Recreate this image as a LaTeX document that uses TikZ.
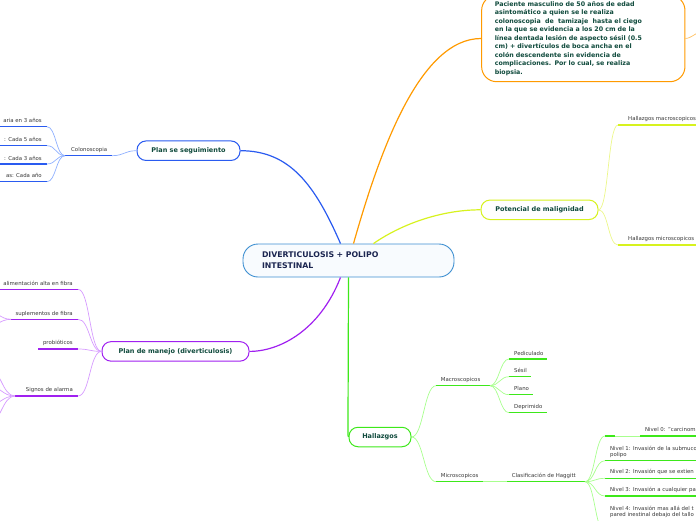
\documentclass[tikz,border=0pt]{standalone}
\usepackage{fontspec}
\setmainfont{DejaVu Sans}
\usepackage{xcolor}
\usepackage{tikz}
\usetikzlibrary{shapes,arrows,positioning,calc}
\definecolor{mapblue}{HTML}{2A5BF0}
\definecolor{mapbluelight}{HTML}{8FB0FF}
\definecolor{mapcore}{HTML}{3D8FD1}
\definecolor{mapcorelight}{HTML}{F8FBFE}
\definecolor{maporange}{HTML}{FF9A00}
\definecolor{maporangelight}{HTML}{FFC060}
\definecolor{mapyellow}{HTML}{D7F21E}
\definecolor{mapyellowlight}{HTML}{ECF78A}
\definecolor{mappurple}{HTML}{A020F0}
\definecolor{mappurplelight}{HTML}{D69BFF}
\definecolor{mapgreen}{HTML}{3DE81A}
\definecolor{mapgreenlight}{HTML}{A8FF8E}
\definecolor{maptext}{HTML}{0F4A3C}
\definecolor{mapnavy}{HTML}{1B2550}
\definecolor{mapgray}{HTML}{383838}

\tikzset{
    topic/.style={draw, line width=1pt, rounded corners=9pt, fill=white, text=maptext,
                  font=\fontsize{6.5}{8}\selectfont\bfseries, minimum height=19.5pt, inner sep=0pt},
    leaftxt/.style={text=mapgray, font=\fontsize{5.4}{6}\selectfont, inner sep=0pt},
    leafbar/.style={line width=1.4pt},
    leaflink/.style={line width=0.7pt},
    mainlink/.style={line width=1.2pt},
}

\begin{document}
\begin{tikzpicture}[x=1pt, y=-1pt]
        \useasboundingbox (0,0) rectangle (696,520);
        \begin{scope}
        \clip (0,0) rectangle (696,520);

        % centre and main topics
        \node[draw=mapcore, line width=0.9pt, rounded corners=15pt, fill=mapcorelight,
              minimum width=211pt, minimum height=33pt, text width=173pt, align=left, inner sep=0pt,
              text=mapnavy, font=\fontsize{7.8}{11}\selectfont\bfseries] (centre) at (348.5,260.5)
              {DIVERTICULOSIS + POLIPO\\INTESTINAL};
        \node[draw=maporange, line width=1pt, rounded corners=15pt, fill=white,
              minimum width=203.3pt, minimum height=86.4pt, text width=177pt, align=left, inner sep=0pt,
              text=maptext, font=\fontsize{6.3}{8.5}\selectfont\bfseries] (caso) at (583.3,38.5)
              {Paciente masculino de 50 años de edad\\
               asintomático a quien se le realiza\\
               colonoscopia~ de~ tamizaje~ hasta el ciego\\
               en la que se evidencia a los 20 cm de la\\
               línea dentada lesión de aspecto sésil (0.5\\
               cm) + divertículos de boca ancha en el\\
               colón descendente sin evidencia de\\
               complicaciones. Por lo cual, se realiza\\
               biopsia.};
        \node[topic, draw=mapyellow, minimum width=117pt] (potencial) at (539.5,209.8) {Potencial de malignidad};
        \node[topic, draw=mapblue, minimum width=103pt] (seguimiento) at (188.5,150.7) {Plan se seguimiento};
        \node[topic, draw=mappurple, minimum width=147pt] (manejo) at (175.5,351.4) {Plan de manejo (diverticulosis)};
        \node[topic, draw=mapgreen, minimum width=62pt] (hallazgos) at (380,437) {Hallazgos};

        \draw[mainlink, draw=mapblue] ($(centre.north)+(-8,0)$) .. controls (315,185) and (290,150.7) .. (seguimiento.east);
        \draw[mainlink, draw=maporange] ($(centre.north)+(5,0)$) .. controls (380,150) and (420,38.5) .. (caso.west);
        \draw[mainlink, draw=mapyellow] ($(centre.north)+(25,0)$) .. controls (400,225) and (440,209.8) .. (potencial.west);
        \draw[mainlink, draw=mappurple] ($(centre.south)+(-8,0)$) .. controls (320,330) and (280,351.4) .. (manejo.east);
        \draw[mainlink, draw=mapgreen] (centre.south) -- (348,425) .. controls (348,437) .. (hallazgos.west);
        \coordinate (casoout) at (705,30);
        \draw[leaflink, draw=maporangelight] (caso.east) .. controls +(6,0) and +(-6,0) .. (casoout);

        % seguimiento
        \coordinate (colo-l) at (65,155.7);
        \coordinate (colo-r) at (112,155.7);
        \draw[leafbar, draw=mapblue] (colo-l) -- (colo-r);
        \node[leaftxt, anchor=base west] (colo) at (71,151.7) {Colonoscopia};
        \draw[leaflink, draw=mapbluelight] (seguimiento.west) .. controls +(-12,0) and +(12,0) .. (colo-r);
        \coordinate (ctrlA) at (47,126.7);
        \coordinate (ctrlB) at (47,145.7);
        \coordinate (ctrlC) at (47,164);
        \coordinate (ctrlD) at (47,181.7);
        \draw[leafbar, draw=mapblue] (-5,126.7) -- (ctrlA) (-5,145.7) -- (ctrlB) (-5,164) -- (ctrlC) (-5,181.7) -- (ctrlD);
        \node[leaftxt, anchor=base east] at (42,122.7) {aria en 3 años};
        \node[leaftxt, anchor=base east] at (42,141.7) {: Cada 5 años};
        \node[leaftxt, anchor=base east] at (42,160) {: Cada 3 años};
        \node[leaftxt, anchor=base east] at (42,177.7) {as: Cada año};
        \draw[leaflink, draw=mapbluelight] (colo-l) .. controls +(-9,0) and +(9,0) .. (ctrlA);
        \draw[leaflink, draw=mapbluelight] (colo-l) .. controls +(-9,0) and +(9,0) .. (ctrlB);
        \draw[leaflink, draw=mapbluelight] (colo-l) .. controls +(-9,0) and +(9,0) .. (ctrlC);
        \draw[leaflink, draw=mapbluelight] (colo-l) .. controls +(-9,0) and +(9,0) .. (ctrlD);

        % manejo
        \coordinate (alim-r) at (78,289.3);
        \coordinate (supl-l) at (11,319.3);
        \coordinate (supl-r) at (78,319.3);
        \coordinate (prob-l) at (38,349);
        \coordinate (prob-r) at (78,349);
        \coordinate (sign-l) at (15,396);
        \coordinate (sign-r) at (78,396);
        \draw[leafbar, draw=mappurple] (-5,289.3) -- (alim-r) (supl-l) -- (supl-r) (prob-l) -- (prob-r) (sign-l) -- (sign-r);
        \node[leaftxt, anchor=base east] (alim) at (73,285.8) {alimentación alta en fibra};
        \node[leaftxt, anchor=base east] (supl) at (73,315.1) {suplementos de fibra};
        \node[leaftxt, anchor=base east] (prob) at (73,344.5) {probióticos};
        \node[leaftxt, anchor=base east] (sign) at (73,391.8) {Signos de alarma};
        \draw[leaflink, draw=mappurplelight] (manejo.west) .. controls +(-12,0) and +(12,0) .. (alim-r);
        \draw[leaflink, draw=mappurplelight] (manejo.west) .. controls +(-12,0) and +(12,0) .. (supl-r);
        \draw[leaflink, draw=mappurplelight] (manejo.west) .. controls +(-12,0) and +(12,0) .. (prob-r);
        \draw[leaflink, draw=mappurplelight] (manejo.west) .. controls +(-12,0) and +(12,0) .. (sign-r);
        \coordinate (suplA) at (-16,309);
        \coordinate (suplB) at (-16,328);
        \draw[leaflink, draw=mappurplelight] (supl-l) .. controls +(-12,0) and +(12,0) .. (suplA);
        \draw[leaflink, draw=mappurplelight] (supl-l) .. controls +(-12,0) and +(12,0) .. (suplB);
        \coordinate (signA) at (-12,368);
        \coordinate (signB) at (-12,386);
        \coordinate (signC) at (-12,405);
        \coordinate (signD) at (-12,424);
        \draw[leaflink, draw=mappurplelight] (sign-l) .. controls +(-13,0) and +(13,0) .. (signA);
        \draw[leaflink, draw=mappurplelight] (sign-l) .. controls +(-13,0) and +(13,0) .. (signB);
        \draw[leaflink, draw=mappurplelight] (sign-l) .. controls +(-13,0) and +(13,0) .. (signC);
        \draw[leaflink, draw=mappurplelight] (sign-l) .. controls +(-13,0) and +(13,0) .. (signD);

        % potencial
        \coordinate (hmac-l) at (618,125);
        \coordinate (hmic-l) at (618,245);
        \draw[leafbar, draw=mapyellow] (hmac-l) -- (700,125) (hmic-l) -- (700,245);
        \node[leaftxt, anchor=base west] (hmac) at (628,120.8) {Hallazgos macroscopicos};
        \node[leaftxt, anchor=base west] (hmic) at (628,240.1) {Hallazgos microscopicos};
        \draw[leaflink, draw=mapyellowlight] (potencial.east) .. controls +(10,0) and +(-10,0) .. (hmac-l);
        \draw[leaflink, draw=mapyellowlight] (potencial.east) .. controls +(10,0) and +(-10,0) .. (hmic-l);

        % hallazgos
        \coordinate (macro-l) at (436,385.7);
        \coordinate (macro-r) at (490,385.7);
        \coordinate (micro-l) at (436,481.7);
        \coordinate (micro-r) at (483,481.7);
        \coordinate (hag-l) at (507,481.7);
        \coordinate (hag-r) at (585,481.7);
        \draw[leafbar, draw=mapgreen] (macro-l) -- (macro-r) (micro-l) -- (micro-r) (hag-l) -- (hag-r);
        \node[leaftxt, anchor=base west] (macro) at (440.7,381.8) {Macroscopicos};
        \node[leaftxt, anchor=base west] (micro) at (440.7,477.8) {Microscopicos};
        \node[leaftxt, anchor=base west] (hag) at (511.7,477.8) {Clasificación de Haggitt};
        \draw[leaflink, draw=mapgreenlight] (hallazgos.east) .. controls +(12,0) and +(-12,0) .. (macro-l);
        \draw[leaflink, draw=mapgreenlight] (hallazgos.east) .. controls +(12,0) and +(-12,0) .. (micro-l);
        \draw[leaflink, draw=mapgreenlight] (micro-r) -- (hag-l);

        \coordinate (pedi-l) at (509,359);
        \coordinate (sesil-l) at (509,376.7);
        \coordinate (plano-l) at (509,394.7);
        \coordinate (depri-l) at (509,412.7);
        \draw[leafbar, draw=mapgreen] (pedi-l) -- (547,359) (sesil-l) -- (531,376.7) (plano-l) -- (533,394.7) (depri-l) -- (547,412.7);
        \node[leaftxt, anchor=base west] (pedi) at (514,355.1) {Pediculado};
        \node[leaftxt, anchor=base west] (sesil) at (514,372.8) {Sésil};
        \node[leaftxt, anchor=base west] (plano) at (514,390.8) {Plano};
        \node[leaftxt, anchor=base west] (depri) at (514,408.6) {Deprimido};
        \draw[leaflink, draw=mapgreenlight] (macro-r) .. controls +(9,0) and +(-9,0) .. (pedi-l);
        \draw[leaflink, draw=mapgreenlight] (macro-r) .. controls +(9,0) and +(-9,0) .. (sesil-l);
        \draw[leaflink, draw=mapgreenlight] (macro-r) .. controls +(9,0) and +(-9,0) .. (plano-l);
        \draw[leaflink, draw=mapgreenlight] (macro-r) .. controls +(9,0) and +(-9,0) .. (depri-l);

        \coordinate (niv0-l) at (605,436);
        \coordinate (niv1-l) at (605,460.7);
        \coordinate (niv2-l) at (605,478.3);
        \coordinate (niv3-l) at (605,496);
        \coordinate (niv4-l) at (605,532);
        \draw[leafbar, draw=mapgreen] (niv0-l) -- (615,436) (640,436) -- (700,436)
              (niv1-l) -- (700,460.7) (niv2-l) -- (700,478.3) (niv3-l) -- (700,496) (niv4-l) -- (700,532);
        \draw[leaflink, draw=mapgreenlight] (615,436) -- (640,436);
        \node[leaftxt, anchor=base west] (niv0) at (645,431.8) {Nivel 0: "carcinom};
        \node[leaftxt, anchor=north west, align=left] (niv1) at (610,446.2) {Nivel 1: Invasión de la submuco\\polipo};
        \node[leaftxt, anchor=base west] (niv2) at (610,473.5) {Nivel 2: Invasión que se extien};
        \node[leaftxt, anchor=base west] (niv3) at (610,491.8) {Nivel 3: Invasión a cualquier pa};
        \node[leaftxt, anchor=north west, align=left] (niv4) at (610,505.6) {Nivel 4: Invasión mas allá del t\\pared inestinal debajo del tallo};
        \draw[leaflink, draw=mapgreenlight] (hag-r) .. controls +(10,0) and +(-10,0) .. (niv0-l);
        \draw[leaflink, draw=mapgreenlight] (hag-r) .. controls +(10,0) and +(-10,0) .. (niv1-l);
        \draw[leaflink, draw=mapgreenlight] (hag-r) .. controls +(10,0) and +(-10,0) .. (niv2-l);
        \draw[leaflink, draw=mapgreenlight] (hag-r) .. controls +(10,0) and +(-10,0) .. (niv3-l);
        \draw[leaflink, draw=mapgreenlight] (hag-r) .. controls +(10,0) and +(-10,0) .. (niv4-l);
        \end{scope}
    \end{tikzpicture}
\end{document}
